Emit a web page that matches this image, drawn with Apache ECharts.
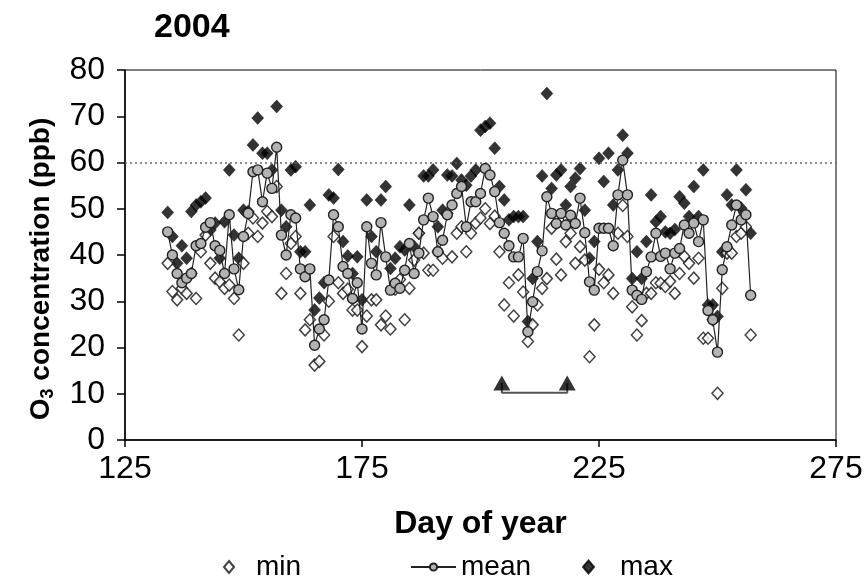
<!DOCTYPE html>
<html>
<head>
<meta charset="utf-8">
<script src="https://cdn.jsdelivr.net/npm/echarts@6/dist/echarts.min.js"></script>
<style>
  html, body { margin: 0; padding: 0; background: #fff; }
  #chart { width: 866px; height: 578px; }
</style>
</head>
<body>
<div id="chart"></div>
<script>
// day of year, 134..257
const days = [
  134, 135, 136, 137, 138, 139, 140, 141, 142, 143, 144, 145, 146, 147, 148, 149,
  150, 151, 152, 153, 154, 155, 156, 157, 158, 159, 160, 161, 162, 163, 164, 165,
  166, 167, 168, 169, 170, 171, 172, 173, 174, 175, 176, 177, 178, 179, 180, 181,
  182, 183, 184, 185, 186, 187, 188, 189, 190, 191, 192, 193, 194, 195, 196, 197,
  198, 199, 200, 201, 202, 203, 204, 205, 206, 207, 208, 209, 210, 211, 212, 213,
  214, 215, 216, 217, 218, 219, 220, 221, 222, 223, 224, 225, 226, 227, 228, 229,
  230, 231, 232, 233, 234, 235, 236, 237, 238, 239, 240, 241, 242, 243, 244, 245,
  246, 247, 248, 249, 250, 251, 252, 253, 254, 255, 256, 257
];

const minO3 = [
  38.2, 32.1, 30.3, 32.8, 31.7, 36, 30.6, 40.7, 44.3, 38.2, 35, 34.2, 32.8, 33.5, 30.6, 22.7,
  38.2, 44.7, 48, 44, 46.9, 49.4, 48.3, 54.8, 31.7, 36, 42.5, 44, 31.7, 23.8, 26, 16.2,
  17, 22.7, 30, 44, 34, 31.7, 32.6, 28.1, 28.1, 20.2, 26.8, 30.3, 30.3, 24.9, 26.8, 24,
  32.6, 34.7, 26, 32.8, 38.9, 44.7, 40.4, 36.7, 36.7, 40.7, 39.3, 49, 39.6, 44.7, 46.1, 40.7,
  44.7, 46.9, 48, 50, 46.8, 48.4, 40.7, 29.2, 34, 26.8, 35.7, 32, 21.3, 24.9, 29.2, 32.8,
  34.9, 45.8, 39.1, 35.7, 42.9, 44.7, 38.2, 41.8, 38.9, 18, 24.9, 36.9, 34, 35.7, 31.7, 44.7,
  50.7, 44, 28.8, 22.7, 25.8, 31.7, 31.7, 34, 33.9, 33.2, 34.3, 31.7, 36, 39.7, 38.2, 35,
  39.3, 22, 22, 26, 10.1, 32.8, 40.4, 40.4, 44, 44.7, 46.1, 22.7
];

const meanO3 = [
  45, 40, 36, 34, 35, 36, 42, 42.5, 46, 47, 42, 41, 36, 48.7, 37, 32.5,
  44, 49, 58, 58.4, 51.5, 57.7, 54.4, 63.3, 44.3, 40, 48.7, 48, 37, 35.3, 37, 20.5,
  24, 26, 34.6, 48.7, 46.1, 37.5, 36, 30.6, 34, 24, 46.1, 38.2, 35.7, 47, 39.6, 32.4,
  33.9, 32.8, 36.7, 42.5, 36, 40.4, 47.6, 52.3, 48.3, 40.7, 43.2, 48.7, 50.8, 53.3, 54.8, 46.1,
  51.5, 51.5, 53.3, 58.7, 57.3, 53.7, 47, 44.7, 42, 39.6, 39.6, 43.6, 23.4, 29.9, 36.4, 40.9,
  52.6, 49, 46.8, 49, 46.5, 48.6, 46.8, 52.3, 44.8, 34.2, 32.4, 45.8, 45.8, 45.8, 42, 53,
  60.5, 53, 32.4, 31.3, 30.4, 36.4, 39.6, 44.7, 39.7, 40.4, 37, 40.4, 41.4, 46.5, 44.7, 46.9,
  42.9, 47.6, 28, 26, 19, 36.8, 41.8, 46.5, 50.8, 47.6, 48.7, 31.3
];

const maxO3 = [
  49.2, 44, 38.2, 42, 39.3, 49.4, 50.8, 51.5, 52.3, 45.4, 46.9, 39.3, 47.2, 58.4, 44.3, 39.3,
  49.7, 49.4, 63.8, 69.6, 62, 62, 58.4, 72.1, 49.7, 46.1, 58.4, 59.1, 40.7, 40.7, 50.8, 28.1,
  30.7, 34, 53, 52.3, 58.5, 42.9, 39.8, 36, 39.6, 30.3, 51.9, 44, 40.7, 51.9, 54.8, 37.1,
  39.3, 41.8, 41.1, 50.8, 41.8, 44.7, 57.1, 57.1, 58.4, 46.1, 49.7, 57.3, 57.1, 59.8, 56.2, 55.1,
  57.1, 58.4, 67, 67.8, 68.5, 63.1, 54.8, 51.9, 47.6, 48.3, 48.3, 48.3, 25.6, 34.9, 42.9, 57.1,
  74.9, 54.4, 57.3, 58.4, 50.8, 54.8, 56.6, 58.7, 49.7, 39.3, 42.9, 60.9, 55.9, 62, 50.8, 58.4,
  65.9, 62, 34.9, 40.7, 34.9, 42.9, 53, 47.2, 48.3, 45, 44.7, 45.5, 52.6, 51.2, 48.3, 54.8,
  48.3, 58.4, 29.2, 29.2, 26.7, 40.7, 53, 50.8, 58.4, 50.1, 54.1, 44.7
];

// triangle markers and the bracket under them
const markerDays = [204.5, 218.3];
const markerLevel = 12.3;
const bracketLevel = 10.2;
const limitLevel = 60;

const yTicks = [0, 10, 20, 30, 40, 50, 60, 70, 80];
const xTicks = [125, 175, 225, 275];

const FONT = "'Liberation Sans', Arial, sans-serif";

const pairs = (vals) => days.map((d, i) => [d, vals[i]]);

const chart = echarts.init(document.getElementById("chart"));

const option = {
  animation: false,
  backgroundColor: "#ffffff",
  title: {
    text: "2004",
    left: 149,
    top: 6,
    textStyle: { fontFamily: FONT, fontSize: 34, fontWeight: "bold", color: "#000" },
  },
  grid: {
    left: 125,
    right: 30,
    top: 70,
    bottom: 138,
    show: true,
    borderColor: "#000",
    borderWidth: 1,
    backgroundColor: "transparent",
  },
  xAxis: {
    type: "value",
    min: xTicks[0],
    max: xTicks[xTicks.length - 1],
    interval: 50,
    name: "Day of year",
    nameLocation: "middle",
    nameGap: 68,
    nameTextStyle: { fontFamily: FONT, fontSize: 32, fontWeight: "bold", color: "#000" },
    axisLine: { lineStyle: { color: "#000", width: 1.5 } },
    axisTick: { length: 7, lineStyle: { color: "#000", width: 1.5 } },
    axisLabel: { fontFamily: FONT, fontSize: 32, color: "#000", margin: 13 },
    splitLine: { show: false },
  },
  yAxis: {
    type: "value",
    min: yTicks[0],
    max: yTicks[yTicks.length - 1],
    interval: 10,
    name: "O{sub|3} concentration (ppb)",
    nameLocation: "middle",
    nameGap: 68,
    nameTextStyle: {
      fontFamily: FONT,
      fontSize: 28,
      fontWeight: "bold",
      color: "#000",
      padding: [0, 28, 0, 0],
      rich: {
        sub: { fontFamily: FONT, fontSize: 18, fontWeight: "bold", color: "#000", padding: [14, 0, 0, 0] },
      },
    },
    axisLine: { show: true, lineStyle: { color: "#000", width: 1.5 } },
    axisTick: { show: true, length: 8, lineStyle: { color: "#000", width: 1.5 } },
    axisLabel: { fontFamily: FONT, fontSize: 32, color: "#000", margin: 20 },
    splitLine: { show: false },
  },
  legend: [
    {
      data: [{ name: "min", icon: "diamond" }],
      left: 218,
      top: 548,
      itemWidth: 10,
      itemHeight: 12,
      textStyle: { fontFamily: FONT, fontSize: 28, color: "#000", padding: [0, 0, 0, 17] },
    },
    {
      data: ["mean"],
      left: 405,
      top: 548,
      itemWidth: 45,
      itemHeight: 9,
      textStyle: { fontFamily: FONT, fontSize: 28, color: "#000" },
    },
    {
      data: [{ name: "max", icon: "diamond" }],
      left: 577,
      top: 548,
      itemWidth: 11,
      itemHeight: 13,
      textStyle: { fontFamily: FONT, fontSize: 28, color: "#000", padding: [0, 0, 0, 21] },
    },
  ],
  series: [
    {
      name: "bracket",
      type: "line",
      data: [
        [markerDays[0], markerLevel],
        [markerDays[0], bracketLevel],
        [markerDays[1], bracketLevel],
        [markerDays[1], markerLevel],
      ],
      showSymbol: false,
      symbol: "none",
      lineStyle: { color: "#555", width: 2 },
      silent: true,
      z: 2,
      markLine: {
        silent: true,
        symbol: "none",
        label: { show: false },
        lineStyle: { color: "#666", type: [2, 3], width: 1.5 },
        data: [{ yAxis: limitLevel }],
      },
    },
    {
      name: "markers",
      type: "scatter",
      data: markerDays.map((d) => [d, markerLevel]),
      symbol: "triangle",
      symbolSize: [17, 15],
      itemStyle: { color: "#000" },
      z: 3,
    },
    {
      name: "max",
      type: "scatter",
      data: pairs(maxO3),
      symbol: "diamond",
      symbolSize: [12, 13],
      itemStyle: { color: "#000", borderColor: "#000", borderWidth: 0.5 },
      z: 4,
    },
    {
      name: "min",
      type: "scatter",
      data: pairs(minO3),
      symbol: "diamond",
      symbolSize: [11, 12],
      itemStyle: { color: "#ffffff", borderColor: "#111", borderWidth: 1.5 },
      z: 5,
    },
    {
      name: "mean",
      type: "line",
      data: pairs(meanO3),
      symbol: "circle",
      symbolSize: 10,
      showAllSymbol: true,
      itemStyle: { color: "#b3b3b3", borderColor: "#222", borderWidth: 1.4 },
      lineStyle: { color: "#222", width: 1.2 },
      z: 6,
    },
  ],
};

chart.setOption(option);
</script>
</body>
</html>
